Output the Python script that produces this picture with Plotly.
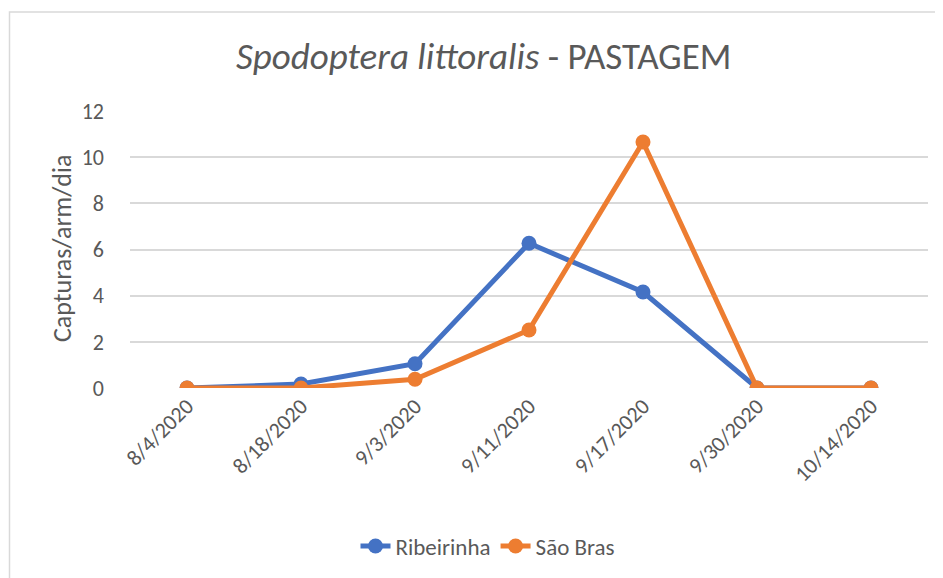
import plotly.graph_objects as go

dates = ["8/4/2020", "8/18/2020", "9/3/2020", "9/11/2020", "9/17/2020", "9/30/2020", "10/14/2020"]
ribeirinha = [0, 0.17, 1.05, 6.27, 4.16, 0, 0]
sao_bras = [0, 0, 0.38, 2.51, 10.66, 0, 0]
y_ticks = [0, 2, 4, 6, 8, 10, 12]

FONT = "Carlito, 'Liberation Sans Narrow', 'Open Sans', sans-serif"
GRAY = "#595959"

fig = go.Figure()
fig.add_trace(go.Scatter(x=dates, y=ribeirinha, name="Ribeirinha", mode="lines+markers",
                         line=dict(color="#4472C4", width=5),
                         marker=dict(color="#4472C4", size=15)))
fig.add_trace(go.Scatter(x=dates, y=sao_bras, name="São Bras", mode="lines+markers",
                         line=dict(color="#ED7D31", width=5),
                         marker=dict(color="#ED7D31", size=15)))

# page offset of the plot div (default body margin)
OX, OY = 8, 8
W, H = 943, 578
# target plot area in screen pixels
PX0, PX1, PY0, PY1 = 130, 928, 111, 388
L, R, T, B = PX0 - OX, W - (PX1 - OX), PY0 - OY, H - (PY1 - OY)
PW, PH = PX1 - PX0, PY1 - PY0


def px(x):
    return (x - PX0) / PW


def py(y):
    return (PY1 - y) / PH


fig.update_layout(
    width=W, height=H,
    margin=dict(l=L, r=R, t=T, b=B, autoexpand=False),
    paper_bgcolor="white", plot_bgcolor="white",
    font=dict(family=FONT, color=GRAY, size=22),
    showlegend=True,
    legend=dict(orientation="h", x=px(488), xanchor="center",
                y=py(546), yanchor="middle",
                font=dict(size=23, color=GRAY), tracegroupgap=0),
    xaxis=dict(type="category", tickangle=-45, showgrid=False, zeroline=False,
               showline=False, ticks="", tickfont=dict(size=22, color=GRAY),
               range=[-0.5, 6.5], automargin=False),
    yaxis=dict(range=[0, 12], tickvals=y_ticks, showgrid=True, gridcolor="#D9D9D9",
               gridwidth=1.5, zeroline=False, showline=False, ticks="",
               tickfont=dict(size=22, color=GRAY), ticklabelstandoff=25, automargin=False),
)

# title
fig.add_annotation(text="<i>Spodoptera littoralis</i> - PASTAGEM", xref="paper", yref="paper",
                   x=px(483), y=py(57), xanchor="center",
                   yanchor="middle", showarrow=False, font=dict(size=37, color=GRAY, family=FONT))
# y axis title
fig.add_annotation(text="Capturas/arm/dia", xref="paper", yref="paper",
                   x=px(62), y=py(249), textangle=-90,
                   xanchor="center", yanchor="middle", showarrow=False,
                   font=dict(size=26, color=GRAY, family=FONT))
# chart frame
fig.add_shape(type="rect", xref="paper", yref="paper",
              x0=px(9.5), x1=px(W + 20), y0=py(600), y1=py(12),
              line=dict(color="#D9D9D9", width=1.5), layer="below")

fig.write_html("out.html")
